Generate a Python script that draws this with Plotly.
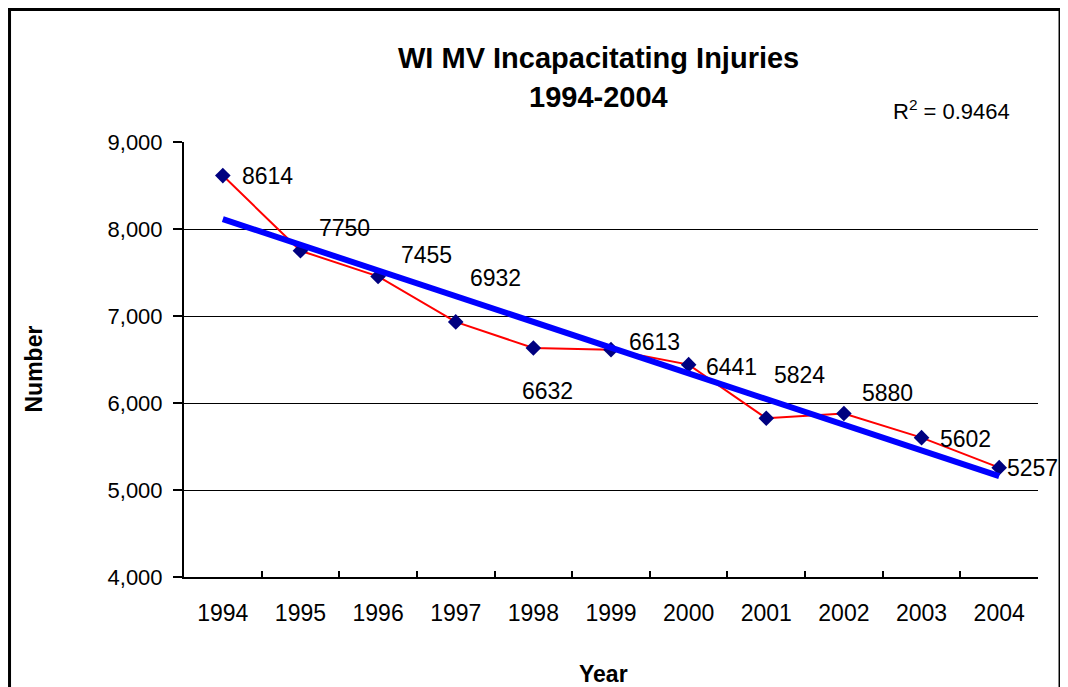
import numpy as np
import plotly.graph_objects as go

years = ["1994", "1995", "1996", "1997", "1998", "1999", "2000", "2001", "2002", "2003", "2004"]
injuries = [8614, 7750, 7455, 6932, 6632, 6613, 6441, 5824, 5880, 5602, 5257]
y_ticks = [4000, 5000, 6000, 7000, 8000, 9000]

# where Excel put each data label, relative to its point (px, +dy = down)
label_dx = [45, 44, 48, 40, 14, 43, 43, 33, 44, 44, 33]
label_dy = [0, -23, -21, -44, 43, -8, 2, -43, -20, 1, 0]

FONT = "Arial, Liberation Sans, sans-serif"

# linear trendline, as Excel fits it (x = 1..n)
xs = np.arange(1, len(injuries) + 1)
slope, intercept = np.polyfit(xs, injuries, 1)
trend = slope * xs + intercept

fig = go.Figure()
fig.add_trace(go.Scatter(
    x=years, y=injuries, mode="lines+markers",
    line=dict(color="#ff0000", width=2),
    marker=dict(symbol="diamond", size=12, color="#000080"),
    showlegend=False, cliponaxis=False,
))
fig.add_trace(go.Scatter(
    x=years, y=trend, mode="lines",
    line=dict(color="#0000ff", width=6),
    showlegend=False,
))

for i, (v, dx, dy) in enumerate(zip(injuries, label_dx, label_dy)):
    fig.add_annotation(x=i, y=v, text=str(v), showarrow=False,
                       xanchor="center", yanchor="middle",
                       xshift=dx, yshift=-dy,
                       font=dict(size=23, color="black", family=FONT))


def paper_text(x, y, text, size, angle=0):
    fig.add_annotation(x=x, y=y, xref="paper", yref="paper", text=text,
                       showarrow=False, xanchor="center", yanchor="middle",
                       textangle=angle,
                       font=dict(size=size, color="black", family=FONT))


paper_text(0.4855, 1.1935, "<b>WI MV Incapacitating Injuries</b>", 29)
paper_text(0.4855, 1.103, "<b>1994-2004</b>", 29)
paper_text(0.899, 1.073, "R<sup>2</sup> = 0.9464", 22)
paper_text(0.4918, -0.224, "<b>Year</b>", 23)
paper_text(-0.1768, 0.477, "<b>Number</b>", 23, angle=-90)

# outer chart frame (bottom edge runs off the page, as in the original)
fig.add_shape(type="rect", xref="paper", yref="paper",
              x0=-0.2043, x1=1.0258, y0=-0.45, y1=1.3046,
              line=dict(color="black", width=3))

fig.update_xaxes(
    type="category", range=[-0.5, 10.5],
    showline=True, linecolor="black", linewidth=2,
    ticks="inside", tickson="boundaries", ticklen=6, tickwidth=2, tickcolor="black",
    showgrid=False, ticklabelstandoff=14,
    tickfont=dict(size=23, color="black", family=FONT),
)
fig.update_yaxes(
    range=[4000, 9000], tickvals=y_ticks, tickformat=",",
    showline=True, linecolor="black", linewidth=2,
    ticks="outside", ticklen=9, tickwidth=2, tickcolor="black",
    showgrid=True, gridcolor="black", gridwidth=1, zeroline=False,
    ticklabelstandoff=6,
    tickfont=dict(size=22, color="black", family=FONT),
)
# page body has an 8px margin, so the figure sits 8px in from the corner
fig.update_layout(
    width=1060, height=679,
    margin=dict(l=176, r=30, t=134, b=110),
    plot_bgcolor="white", paper_bgcolor="white",
    font=dict(family=FONT, color="black"),
)

fig.write_html("out.html")
